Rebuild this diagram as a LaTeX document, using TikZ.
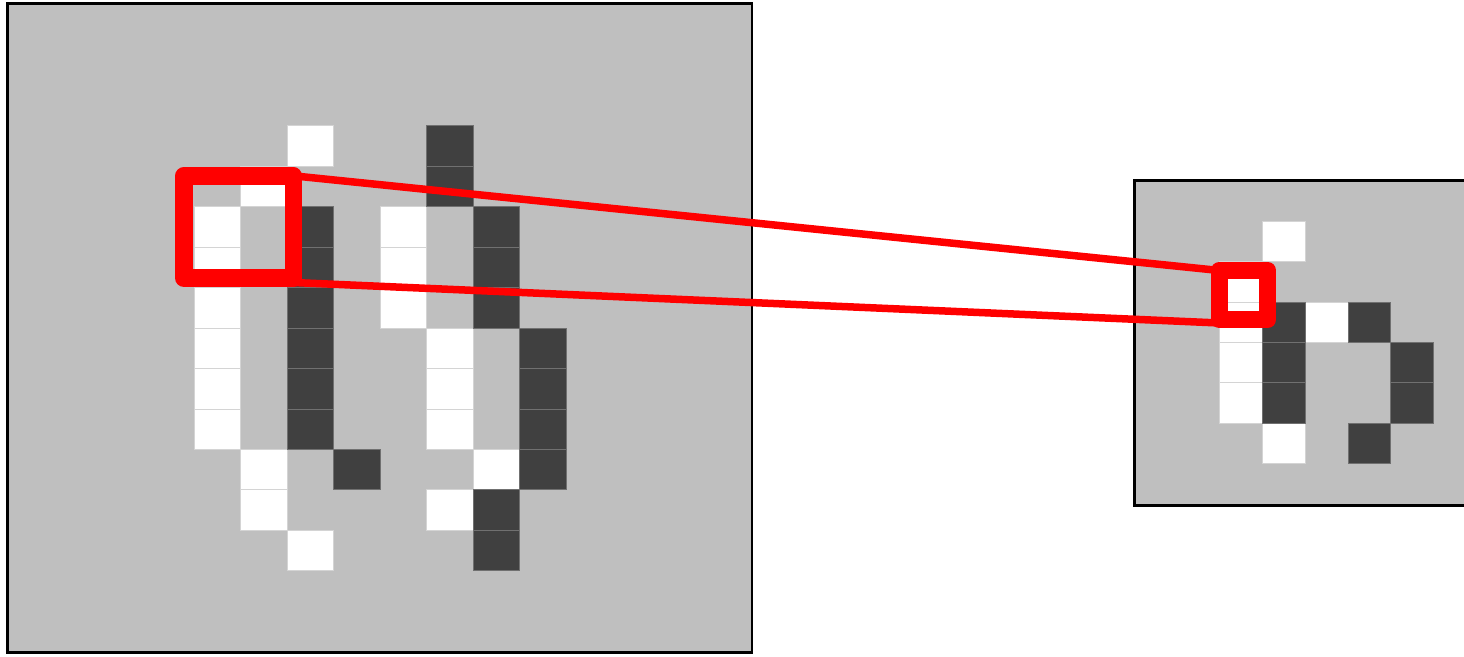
\documentclass[tikz,border=0pt]{standalone}
\definecolor{bgray}{HTML}{BFBFBF}
\definecolor{dgray}{HTML}{404040}
\definecolor{wedge}{HTML}{D4D4D4}
\definecolor{dedge}{HTML}{707070}
\begin{document}
\begin{tikzpicture}[x=1pt,y=-1pt,
  panel/.style={draw=black,line width=2.6pt,fill=bgray},
  wcell/.style={fill=white,draw=wedge,line width=1pt},
  dcell/.style={fill=dgray,draw=dedge,line width=1pt},
  focus/.style={draw=red,line width=17.5pt,line join=round,rectangle,inner sep=0pt,outer sep=0pt},
  link/.style={draw=red,line width=7.5pt}]
\useasboundingbox (0,0) rectangle (1464,656);
\clip (0,0) rectangle (1464,656);
% panels
\draw[panel] (7.3,3.7) rectangle (752,652.3);
\draw[panel] (1134.5,180.5) rectangle (1478,505.5);
% left grid cells
\foreach \c/\r in {6/3,5/4,4/5,4/6,4/7,4/8,4/9,4/10,8/5,8/6,8/7,9/8,9/9,9/10,5/11,10/11,5/12,9/12,6/13}
  \draw[wcell] ({8+46.5*\c},{4.5+40.45*\r}) rectangle ++(46.5,40.45);
\foreach \c/\r in {9/3,9/4,6/5,6/6,6/7,6/8,6/9,6/10,10/5,10/6,10/7,11/8,11/9,11/10,11/11,7/11,10/12,10/13}
  \draw[dcell] ({8+46.5*\c},{4.5+40.45*\r}) rectangle ++(46.5,40.45);
% right grid cells
\foreach \c/\r in {3/1,2/2,2/3,2/4,2/5,4/3,3/6}
  \draw[wcell] ({1134.5+42.7*\c},{181.4+40.27*\r}) rectangle ++(42.7,40.27);
\foreach \c/\r in {3/3,3/4,3/5,5/3,6/4,6/5,5/6}
  \draw[dcell] ({1134.5+42.7*\c},{181.4+40.27*\r}) rectangle ++(42.7,40.27);
% focus boxes
\node[focus,minimum width=109.5pt,minimum height=102.2pt] (fl) at (238.5,226.9) {};
\node[focus,minimum width=48pt,minimum height=49pt] (fr) at (1243.5,295) {};
% links
\draw[link] (fl.north east) -- (fr.north west);
\draw[link] ([yshift=-4.5pt]fl.south east) -- ([yshift=-3.5pt]fr.south west);
\end{tikzpicture}
\end{document}
